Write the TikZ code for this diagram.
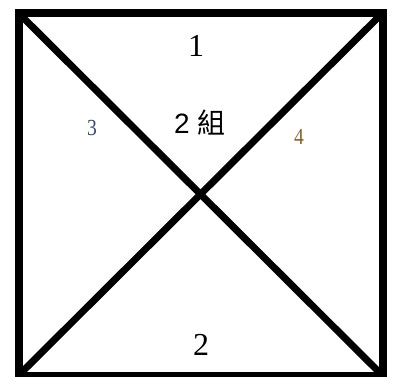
\documentclass[tikz,border=0pt]{standalone}
\usepackage{fontspec}
\setmainfont{Liberation Serif}
\newfontfamily\sansf{Liberation Sans}
\newfontfamily\cjk{Noto Sans CJK TC}
\definecolor{numblue}{RGB}{60,70,115}
\definecolor{numbrown}{RGB}{140,95,40}
\tikzset{
  frame/.style={line width=8pt, line join=miter, draw=black},
  diag/.style={line width=7pt, draw=black, line cap=butt},
  bignum/.style={font=\fontsize{32}{32}\selectfont, inner sep=0pt},
  smallnum/.style={font=\fontsize{23}{23}\selectfont, inner sep=0pt, xscale=0.85},
  grouplabel/.style={font=\fontsize{28}{28}\selectfont, inner sep=0pt}
}
\begin{document}
\begin{tikzpicture}[x=1pt,y=-1pt]
\useasboundingbox (0,0) rectangle (411,376);
\fill[white] (0,0) rectangle (411,376);
\coordinate (tl) at (18.5,13);
\coordinate (tr) at (382.5,13);
\coordinate (bl) at (18.5,375.5);
\coordinate (br) at (382.5,375.5);
\draw[diag] (tl) -- (br);
\draw[diag] (tr) -- (bl);
\draw[frame] (tl) -- (tr) -- (br) -- (bl) -- cycle;
\node[bignum] (n1) at (196,46) {1};
\node[bignum] (n2) at (201,345) {2};
\node[smallnum, text=numblue] (n3) at (92,128) {3};
\node[smallnum, text=numbrown] (n4) at (299,137) {4};
\node[grouplabel] (g) at (200,123) {{\sansf 2}\hspace{0.3em}{\cjk 組}};
\end{tikzpicture}
\end{document}
